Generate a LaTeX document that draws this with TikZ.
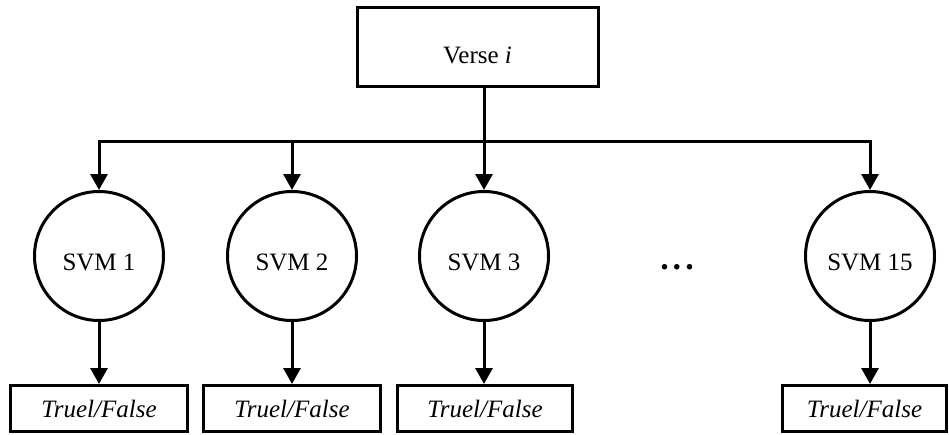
\documentclass[tikz,border=0pt]{standalone}
\usepackage{fontspec}
\setmainfont{Liberation Serif}
\usetikzlibrary{arrows.meta}
\newcommand{\svmlabel}[1]{\raisebox{-14.5pt}[0pt][0pt]{#1}}
\begin{document}
\begin{tikzpicture}[x=1pt,y=-1pt,
  every node/.style={font=\fontsize{25}{28}\selectfont},
  boxnode/.style={draw,line width=3pt,rectangle,inner sep=0pt},
  svmnode/.style={draw,line width=3pt,circle,inner sep=0pt,minimum size=129pt},
  outnode/.style={boxnode,minimum height=46pt,font=\fontsize{25}{28}\selectfont\itshape},
  conn/.style={line width=3pt},
  arr/.style={conn,-{Triangle[width=17pt,length=16pt]}}]
\useasboundingbox (0,0) rectangle (949,434);
\node[boxnode,minimum width=241pt,minimum height=79pt] (verse) at (477.5,47) {\raisebox{-16pt}[0pt][0pt]{Verse \textit{i}}};
\node[svmnode] (s1) at (99,256) {\svmlabel{SVM 1}};
\node[svmnode] (s2) at (292,256) {\svmlabel{SVM 2}};
\node[svmnode] (s3) at (484,256) {\svmlabel{SVM 3}};
\node[svmnode] (s15) at (870,256) {\svmlabel{SVM 15}};
\node[inner sep=0pt,font=\fontsize{34}{34}\selectfont\bfseries] (dots) at (677,267) {.\hspace{4pt}.\hspace{4pt}.};
\node[outnode,minimum width=177pt] (o1) at (99,408.5) {Truel/False};
\node[outnode,minimum width=177pt] (o2) at (292,408.5) {Truel/False};
\node[outnode,minimum width=175pt] (o3) at (485,408.5) {Truel/False};
\node[outnode,minimum width=164pt] (o15) at (864.5,408.5) {Truel/False};
\coordinate (busL) at (99,141);
\coordinate (busR) at (870,141);
\draw[arr] (busR) -- (busL) -- (s1.north);
\draw[arr] (busL) -- (busR) -- (s15.north);
\draw[arr] (s2.north |- busL) -- (s2.north);
\draw[arr] (verse.south -| s3.north) -- (s3.north);
\draw[arr] (s1.south) -- (o1.north -| s1.south);
\draw[arr] (s2.south) -- (o2.north -| s2.south);
\draw[arr] (s3.south) -- (o3.north -| s3.south);
\draw[arr] (s15.south) -- (o15.north -| s15.south);
\end{tikzpicture}
\end{document}
